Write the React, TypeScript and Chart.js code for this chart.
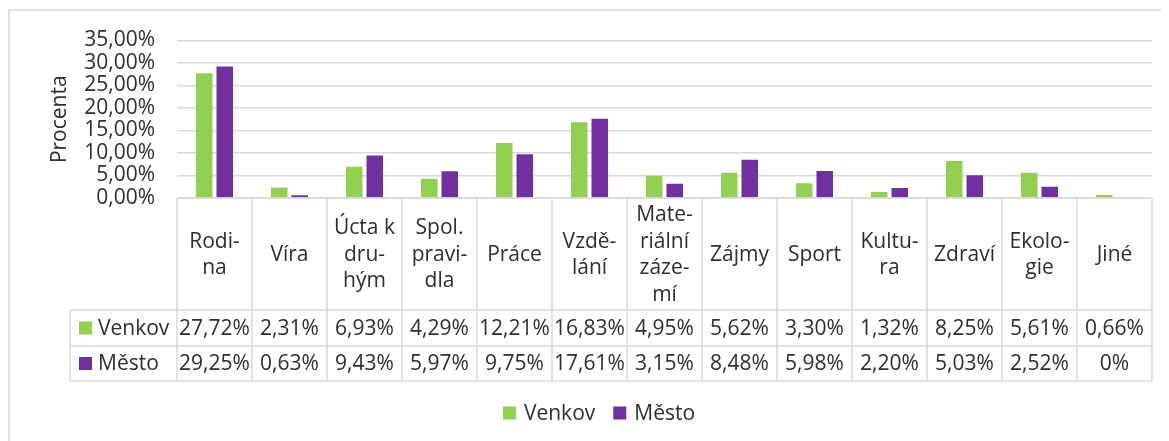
import React, { useEffect, useRef } from 'react';
import { Chart, registerables } from 'chart.js';

Chart.register(...registerables);

const categories = ['Rodina', 'Víra', 'Úcta k druhým', 'Spol. pravidla', 'Práce', 'Vzdělání', 'Materiální zázemí', 'Zájmy', 'Sport', 'Kultura', 'Zdraví', 'Ekologie', 'Jiné'];
const headerLines = [
  ['Rodi-', 'na'],
  ['Víra'],
  ['Úcta k', 'dru-', 'hým'],
  ['Spol.', 'pravi-', 'dla'],
  ['Práce'],
  ['Vzdě-', 'lání'],
  ['Mate-', 'riální', 'záze-', 'mí'],
  ['Zájmy'],
  ['Sport'],
  ['Kultu-', 'ra'],
  ['Zdraví'],
  ['Ekolo-', 'gie'],
  ['Jiné'],
];
const venkov = [27.72, 2.31, 6.93, 4.29, 12.21, 16.83, 4.95, 5.62, 3.30, 1.32, 8.25, 5.61, 0.66];
const mesto = [29.25, 0.63, 9.43, 5.97, 9.75, 17.61, 3.15, 8.48, 5.98, 2.20, 5.03, 2.52, 0];
const seriesNames = ['Venkov', 'Město'];
const seriesColors = ['#92D050', '#7030A0'];
const axisTitle = 'Procenta';
const yMin = 0;
const yMax = 35;
const yStep = 5;

const FONT = '"Open Sans", sans-serif';
const FS = 21;
const TEXT = '#2e2e2e';
const LINE = '#d9d9d9';

const fmtTick = (v: number) => v.toFixed(2).replace('.', ',') + '%';
const fmtCell = (v: number) => (v === 0 ? '0%' : v.toFixed(2).replace('.', ',') + '%');

const seriesData = [venkov, mesto];

const tablePlugin = {
  id: 'dataTable',
  beforeDraw(chart: any) {
    const ctx = chart.ctx;
    ctx.save();
    ctx.strokeStyle = LINE;
    ctx.lineWidth = 1.5;
    ctx.beginPath();
    ctx.moveTo(1, chart.height + 5);
    ctx.lineTo(1, 2);
    ctx.lineTo(chart.width + 5, 2);
    ctx.stroke();
    ctx.restore();
  },
  afterDraw(chart: any) {
    const ctx = chart.ctx;
    const { left, right, bottom } = chart.chartArea;
    const xs = chart.scales.x;
    const n = categories.length;
    const colW = (right - left) / n;
    const headerBottom = bottom + 112;
    const row1Bottom = headerBottom + 36;
    const row2Bottom = row1Bottom + 35;
    const labelLeft = 62;

    const line = (x1: number, y1: number, x2: number, y2: number) => {
      ctx.beginPath();
      ctx.moveTo(x1, y1);
      ctx.lineTo(x2, y2);
      ctx.stroke();
    };

    ctx.save();
    ctx.strokeStyle = LINE;
    ctx.lineWidth = 1.5;
    line(left, bottom, right, bottom);
    line(labelLeft, headerBottom, right, headerBottom);
    line(labelLeft, row1Bottom, right, row1Bottom);
    line(labelLeft, row2Bottom, right, row2Bottom);
    for (let i = 0; i <= n; i++) {
      const x = i < n ? xs.getPixelForValue(i) - colW / 2 : xs.getPixelForValue(n - 1) + colW / 2;
      line(x, bottom, x, row2Bottom);
    }
    line(labelLeft, headerBottom, labelLeft, row2Bottom);

    ctx.fillStyle = TEXT;
    ctx.font = `${FS}px ${FONT}`;
    ctx.textAlign = 'center';
    ctx.textBaseline = 'middle';
    const headerMid = (bottom + headerBottom) / 2;
    const lh = 26.5;
    for (let i = 0; i < n; i++) {
      const cx = xs.getPixelForValue(i);
      const lines = headerLines[i];
      const start = headerMid - ((lines.length - 1) * lh) / 2;
      lines.forEach((t, k) => ctx.fillText(t, cx, start + k * lh + 1));
    }
    const rowMids = [(headerBottom + row1Bottom) / 2, (row1Bottom + row2Bottom) / 2];
    seriesData.forEach((arr, s) => {
      for (let i = 0; i < n; i++) {
        ctx.fillText(fmtCell(arr[i]), xs.getPixelForValue(i), rowMids[s] + 1);
      }
    });
    // row labels
    ctx.textAlign = 'left';
    seriesNames.forEach((name, s) => {
      ctx.fillStyle = seriesColors[s];
      ctx.fillRect(71, rowMids[s] - 6.5, 13, 13);
      ctx.fillStyle = TEXT;
      ctx.fillText(name, 90, rowMids[s] + 1);
    });

    // legend
    const legendY = 405;
    const gap = 18;
    const box = 13;
    const boxGap = 8;
    const widths = seriesNames.map((nm) => box + boxGap + ctx.measureText(nm).width);
    const total = widths.reduce((a, b) => a + b, 0) + gap * (seriesNames.length - 1);
    let x = 591 - total / 2;
    seriesNames.forEach((name, s) => {
      ctx.fillStyle = seriesColors[s];
      ctx.fillRect(x, legendY - box / 2, box, box);
      ctx.fillStyle = TEXT;
      ctx.fillText(name, x + box + boxGap, legendY + 1);
      x += widths[s] + gap;
    });
    ctx.restore();
  },
};

export default function App() {
  const ref = useRef<HTMLCanvasElement>(null);
  useEffect(() => {
    if (!ref.current) return;
    const chart = new Chart(ref.current, {
      type: 'bar',
      data: {
        labels: categories,
        datasets: seriesNames.map((nm, s) => ({
          label: nm,
          data: seriesData[s],
          backgroundColor: seriesColors[s],
          borderWidth: 0,
          categoryPercentage: 0.547,
          barPercentage: 0.805,
        })),
      },
      options: {
        animation: false,
        responsive: false,
        events: [],
        layout: { padding: { left: 0, top: 28, right: 17, bottom: 243 } },
        plugins: { legend: { display: false }, tooltip: { enabled: false } },
        scales: {
          x: { display: false },
          y: {
            min: yMin,
            max: yMax,
            afterFit(s: any) {
              s.width = 169;
            },
            border: { display: false },
            grid: { color: LINE, lineWidth: 1.5, drawTicks: false },
            ticks: {
              stepSize: yStep,
              autoSkip: false,
              padding: 22,
              color: TEXT,
              font: { family: FONT, size: FS, lineHeight: 1 },
              callback: (v: any) => fmtTick(Number(v)),
            },
            title: {
              display: true,
              text: axisTitle,
              color: TEXT,
              font: { family: FONT, size: FS },
              padding: { top: 39, bottom: 0 },
            },
          },
        },
      },
      plugins: [tablePlugin],
    });
    return () => chart.destroy();
  }, []);
  return (
    <div style={{ width: 1161, height: 433 }}>
      <canvas ref={ref} width={1161} height={433} style={{ display: 'block' }} />
    </div>
  );
}
